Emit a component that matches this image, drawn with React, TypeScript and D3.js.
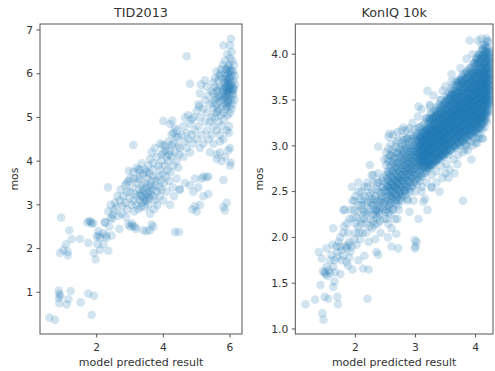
import * as d3 from 'd3'

const W = 495
const H = 371

// TID2013: [predicted, mos]
const tidLow: [number, number][] = [
  [0.58, 0.42], [0.75, 0.37], [1.85, 0.48], [0.87, 0.87], [0.88, 0.96], [0.86, 1.04], [0.91, 0.92],
  [1.22, 1.03], [1.15, 0.84], [1.1, 0.72], [0.88, 0.75], [1.52, 0.77], [1.75, 0.97], [1.92, 0.92],
  [0.93, 2.71], [0.9, 1.9], [1.0, 1.97], [1.13, 1.93], [1.13, 1.85], [1.08, 2.1], [1.25, 2.22],
  [1.18, 2.42], [1.5, 2.22], [1.75, 2.13], [1.72, 2.6], [1.78, 2.63], [1.85, 2.57], [1.92, 1.9],
  [1.97, 1.75], [2.02, 2.1], [2.1, 1.97], [2.05, 2.3], [2.0, 2.27], [2.25, 2.6], [2.2, 2.35],
  [2.28, 2.3], [2.3, 2.25], [2.35, 1.95], [2.38, 2.5], [2.42, 2.7], [2.47, 2.68], [2.2, 2.1],
  [1.82, 2.62], [1.9, 2.58], [2.34, 3.4], [2.25, 2.6], [2.05, 2.4], [2.1, 2.25], [2.45, 2.3],
  [2.52, 2.88], [2.48, 2.78], [2.55, 3.05], [2.35, 2.85], [2.42, 3.0],
]

const tidMid: [number, number][] = [
  [2.6, 2.95], [2.65, 2.75], [2.7, 3.1], [2.68, 2.45], [2.75, 2.8], [2.8, 3.2], [2.78, 2.98],
  [2.85, 3.05], [2.88, 2.72], [2.9, 3.3], [2.92, 2.9], [2.95, 2.55], [2.98, 3.15], [2.62, 3.2],
  [2.72, 3.35], [2.85, 3.45], [2.95, 3.55], [2.9, 3.5], [3.0, 3.6], [2.96, 3.78], [3.1, 3.75],
  [3.2, 3.85], [3.25, 3.8], [3.1, 4.37], [3.0, 2.5], [3.08, 2.52], [3.05, 3.0], [3.1, 3.1],
  [3.12, 2.85], [3.15, 3.25], [3.18, 2.45], [3.2, 3.0], [3.22, 3.2], [3.25, 2.9], [3.28, 3.35],
  [3.3, 3.1], [3.32, 2.95], [3.35, 3.2], [3.35, 3.45], [3.38, 3.05], [3.4, 3.3], [3.4, 2.42],
  [3.42, 3.15], [3.45, 3.5], [3.45, 2.95], [3.48, 3.25], [3.5, 3.1], [3.5, 3.4], [3.5, 2.4],
  [3.52, 3.6], [3.55, 3.3], [3.55, 3.0], [3.58, 3.15], [3.6, 3.45], [3.6, 2.8], [3.62, 3.25],
  [3.65, 3.55], [3.65, 2.55], [3.68, 3.35], [3.7, 3.2], [3.7, 3.65], [3.72, 2.9], [3.75, 3.45],
  [3.75, 3.1], [3.3, 3.8], [3.45, 3.8], [3.35, 3.95], [3.55, 3.9], [3.6, 4.05], [3.7, 3.95],
  [3.8, 4.1], [3.85, 3.9], [3.78, 3.55], [3.8, 3.3], [3.82, 3.0], [3.85, 3.65], [3.88, 3.4],
  [3.9, 3.2], [3.9, 3.8], [3.92, 3.55], [3.95, 4.0], [3.95, 3.35], [3.98, 3.7], [4.0, 4.2],
  [4.0, 3.1], [4.02, 3.5], [4.05, 3.9], [4.05, 4.35], [4.08, 3.65], [4.1, 4.1], [4.1, 3.3],
  [4.12, 3.8], [4.15, 4.0], [4.15, 4.45], [4.18, 3.55], [4.2, 4.25], [4.2, 3.0], [4.22, 3.75],
  [4.25, 4.1], [4.25, 4.6], [4.28, 3.4], [4.3, 3.9], [4.3, 4.4], [4.32, 3.2], [4.35, 4.2],
  [4.35, 2.38], [4.38, 4.55], [4.4, 3.6], [4.4, 4.0], [4.42, 4.7], [4.45, 3.85], [4.45, 4.35],
  [4.48, 3.35], [4.48, 4.15], [3.65, 4.2], [3.75, 4.3], [3.9, 4.4], [3.98, 4.37], [4.25, 4.37],
  [4.0, 4.92], [4.27, 4.93], [4.2, 4.85], [3.6, 2.42], [3.7, 2.5], [3.15, 2.5], [3.05, 2.58],
  [3.08, 3.4], [3.2, 3.5], [3.25, 3.6], [3.0, 3.3], [3.12, 3.6], [3.3, 3.65], [3.4, 3.7],
  [3.5, 3.75], [3.58, 3.72], [3.68, 3.8], [3.95, 4.15], [4.08, 4.25], [4.18, 4.15], [4.35, 4.75],
  [4.3, 4.65], [4.45, 4.55], [3.3, 3.25], [3.45, 3.1], [3.55, 3.2], [3.38, 3.35], [3.62, 3.4],
]

const tidHigh: [number, number][] = [
  [4.47, 2.38], [4.87, 2.9], [5.0, 2.85], [5.1, 3.0], [4.95, 2.97], [5.2, 3.2], [4.9, 3.3],
  [5.35, 3.25], [5.8, 2.95], [5.85, 2.88], [5.9, 3.05], [5.8, 3.57], [6.0, 3.9], [6.02, 3.97],
  [5.6, 4.15], [5.7, 4.2], [5.15, 3.6], [5.3, 3.63], [5.35, 3.65], [4.5, 3.35], [4.65, 3.5],
  [4.8, 3.45], [4.95, 3.6], [5.05, 3.4], [5.2, 3.65], [5.6, 4.05], [5.75, 4.0], [5.85, 4.1],
  [5.95, 4.25], [6.0, 4.3], [5.7, 4.45], [5.8, 4.5], [5.97, 4.65], [5.97, 4.8], [4.7, 6.4],
  [4.8, 5.77], [5.13, 5.75], [5.25, 5.85], [5.3, 5.7], [5.05, 5.3], [5.1, 5.55], [5.08, 5.25],
  [4.65, 5.0], [4.75, 5.05], [4.85, 4.95], [4.5, 4.3], [4.55, 4.6], [4.6, 4.8], [4.6, 4.1],
  [4.65, 4.45], [4.7, 4.3], [4.7, 4.65], [4.75, 4.5], [4.8, 4.2], [4.8, 4.85], [4.85, 4.6],
  [4.9, 4.4], [4.9, 5.0], [4.95, 4.7], [5.0, 4.5], [5.0, 5.15], [5.05, 4.8], [5.1, 4.3],
  [5.1, 5.0], [5.15, 4.6], [5.2, 5.2], [5.2, 4.4], [5.25, 4.9], [5.25, 5.4], [5.3, 4.7],
  [5.3, 5.1], [5.35, 4.5], [5.35, 5.5], [5.4, 4.9], [5.4, 5.3], [5.4, 4.2], [5.45, 5.0],
  [5.45, 5.6], [5.45, 4.6], [5.5, 5.2], [5.5, 4.8], [5.5, 5.8], [5.5, 4.4], [5.55, 5.4],
  [5.55, 5.0], [5.55, 5.9], [5.6, 4.7], [5.6, 5.3], [5.6, 5.6], [5.6, 6.05], [5.65, 4.9],
  [5.65, 5.5], [5.65, 5.15], [5.65, 5.85], [5.7, 4.6], [5.7, 5.35], [5.7, 5.7], [5.7, 6.0],
  [5.72, 5.05], [5.75, 5.5], [5.75, 5.25], [5.75, 5.9], [5.75, 4.8], [5.78, 6.2], [5.8, 5.4],
  [5.8, 5.6], [5.8, 5.1], [5.8, 6.65], [5.82, 5.8], [5.82, 4.95], [5.85, 5.3], [5.85, 5.5],
  [5.85, 5.7], [5.85, 6.0], [5.85, 6.3], [5.88, 5.2], [5.88, 5.9], [5.9, 5.45], [5.9, 5.6],
  [5.9, 5.75], [5.9, 6.1], [5.9, 4.7], [5.92, 5.35], [5.92, 6.45], [5.93, 5.05], [5.95, 5.55],
  [5.95, 5.8], [5.95, 6.0], [5.95, 5.4], [5.97, 6.2], [5.97, 5.65], [5.98, 5.25], [6.0, 5.5],
  [6.0, 5.9], [6.0, 6.65], [6.0, 5.1], [6.02, 5.75], [6.02, 6.1], [6.03, 6.8], [6.03, 5.4],
  [6.05, 5.6], [6.05, 6.5], [6.05, 5.95], [6.07, 5.3], [6.07, 6.3], [6.08, 5.7], [6.1, 5.85],
  [6.1, 5.5], [6.1, 6.05], [6.12, 5.65], [6.12, 6.2], [6.13, 5.4], [6.15, 5.75], [6.15, 5.95],
  [5.88, 5.55], [5.92, 5.85], [5.95, 6.15], [5.98, 5.7], [6.0, 6.35], [5.85, 5.8], [5.83, 5.45],
  [5.87, 6.1], [5.9, 5.25], [5.95, 5.35], [6.03, 5.8], [6.05, 5.2], [5.78, 5.65], [5.7, 5.45],
  [5.65, 5.65], [5.6, 5.45], [5.55, 5.7], [5.68, 5.95], [5.73, 6.1], [5.62, 5.2], [5.58, 5.1],
  [5.5, 5.55], [5.48, 5.35], [5.93, 5.6], [5.97, 5.9], [6.08, 5.55], [6.0, 5.65], [5.88, 5.65],
  [6.05, 6.05], [5.9, 5.95], [5.98, 6.05], [6.1, 5.65], [5.93, 5.75],
]

// KonIQ 10k: [predicted, mos]
const konLow: [number, number][] = [
  [1.17, 1.27], [1.33, 1.32], [1.45, 1.17], [1.47, 1.1], [1.42, 1.48], [1.49, 1.35], [1.55, 1.33],
  [1.71, 1.27], [1.7, 1.35], [2.2, 1.33], [1.65, 1.52], [1.63, 1.46], [1.49, 1.62], [1.46, 1.63],
  [1.55, 1.64], [1.58, 1.61], [1.52, 1.68], [1.63, 1.68], [1.39, 1.84], [1.52, 1.88], [1.44, 1.77],
  [1.6, 1.81], [1.7, 1.84], [1.77, 1.86], [1.83, 1.9], [1.88, 1.92], [1.94, 1.9], [1.85, 1.73],
  [1.88, 1.69], [1.77, 1.75], [2.13, 1.66], [2.22, 1.65], [2.35, 1.84], [2.38, 1.81], [2.6, 1.9],
  [2.71, 1.88], [2.99, 1.88], [3.02, 1.95], [3.79, 2.4], [1.63, 2.1], [1.81, 2.12], [1.96, 2.21],
  [1.95, 2.4], [2.05, 2.28], [1.82, 2.3], [1.8, 2.3], [1.94, 2.55], [2.24, 2.79], [2.27, 2.68],
  [1.5, 1.6], [1.53, 1.58], [1.9, 1.95], [1.86, 1.88], [1.92, 1.85], [1.98, 1.98], [2.0, 2.05],
  [2.02, 1.92], [2.05, 2.12], [2.08, 1.98], [2.1, 2.35], [2.1, 2.2], [2.12, 2.05], [2.15, 2.45],
  [2.15, 2.28], [2.15, 1.8], [2.18, 2.15], [2.2, 2.38], [2.2, 2.55], [2.22, 1.95], [2.25, 2.2],
  [2.25, 2.48], [2.28, 2.35], [2.28, 2.1], [2.3, 2.6], [2.3, 2.25], [2.32, 2.42], [2.33, 1.98],
  [2.35, 2.3], [2.35, 2.52], [2.37, 2.15], [2.38, 2.7], [2.4, 2.4], [2.4, 2.25], [2.42, 2.55],
  [2.42, 2.05], [2.44, 2.33], [2.45, 2.65], [2.45, 2.45], [2.47, 2.2], [2.48, 2.38], [2.48, 2.85],
  [2.1, 2.5], [2.05, 2.6], [2.0, 2.45], [1.98, 2.3], [1.9, 2.2], [1.88, 2.05], [1.75, 2.0],
  [1.72, 1.95], [1.68, 1.9], [1.62, 1.92], [1.58, 1.75], [1.66, 1.62], [1.75, 1.6], [1.8, 1.8],
  [1.9, 1.78], [1.95, 1.65], [2.05, 1.75], [2.0, 2.15], [2.35, 2.4], [2.36, 2.22], [2.43, 2.48],
  [2.4, 2.32], [2.46, 2.55], [2.5, 2.28], [2.3, 2.35], [2.38, 2.35], [2.34, 2.26], [2.41, 2.18],
  [2.26, 2.3], [2.32, 2.14], [2.18, 2.25], [2.12, 2.4], [2.44, 2.42], [2.39, 2.6], [2.27, 2.42],
  [2.02, 2.22], [2.04, 2.35], [2.06, 2.05], [2.08, 2.42], [2.1, 2.15], [2.12, 2.3], [2.14, 2.2],
  [2.16, 2.36], [2.18, 2.05], [2.2, 2.28], [2.22, 2.45], [2.24, 2.12], [2.26, 2.38], [2.28, 2.52],
  [2.3, 2.18], [2.32, 2.3], [2.34, 2.45], [2.36, 2.6], [2.38, 2.28], [2.4, 2.5], [2.42, 2.38],
  [2.44, 2.62], [2.46, 2.3], [2.48, 2.5], [2.5, 2.4], [2.52, 2.2], [2.54, 2.55], [2.56, 2.35],
  [2.58, 2.25], [2.6, 2.45], [2.62, 2.3], [2.64, 2.55], [2.66, 2.2], [2.68, 2.4], [2.7, 2.62],
  [2.72, 2.3], [2.74, 2.48], [2.2, 2.6], [2.15, 2.55], [2.3, 2.68], [2.05, 2.5], [1.98, 2.4],
  [1.92, 2.3], [1.86, 2.15], [1.8, 2.05], [1.75, 1.9], [1.7, 1.78], [1.65, 1.75],
]

// dense part of the KonIQ cloud, one entry per predicted value: [predicted, mos values]
const konCore: [number, number[]][] = [
  [2.51, [2.3, 2.44, 2.52, 2.6, 2.68, 2.79, 2.93]],
  [2.53, [2.36, 2.48, 2.56, 2.64, 2.72, 2.86]],
  [2.55, [2.27, 2.4, 2.5, 2.57, 2.63, 2.71, 2.83, 2.97]],
  [2.57, [2.33, 2.45, 2.54, 2.61, 2.69, 2.77, 2.9]],
  [2.59, [2.37, 2.46, 2.53, 2.6, 2.67, 2.79, 2.89, 3.02]],
  [2.61, [2.42, 2.5, 2.58, 2.65, 2.73, 2.84, 2.95]],
  [2.63, [2.31, 2.43, 2.51, 2.57, 2.64, 2.72, 2.81, 2.92]],
  [2.65, [2.4, 2.48, 2.55, 2.62, 2.69, 2.77, 2.87]],
  [2.67, [2.37, 2.47, 2.55, 2.62, 2.7, 2.77, 2.86, 2.99]],
  [2.69, [2.44, 2.52, 2.59, 2.66, 2.73, 2.81, 2.93]],
  [2.71, [2.35, 2.46, 2.53, 2.6, 2.66, 2.74, 2.82, 2.91, 3.06]],
  [2.73, [2.41, 2.5, 2.57, 2.64, 2.7, 2.78, 2.87, 2.97]],
  [2.75, [2.43, 2.51, 2.58, 2.65, 2.72, 2.8, 2.88, 2.96]],
  [2.77, [2.47, 2.55, 2.62, 2.68, 2.75, 2.84, 2.93, 3.03]],
  [2.79, [2.45, 2.55, 2.62, 2.68, 2.75, 2.82, 2.9, 3.0, 3.1]],
  [2.81, [2.51, 2.59, 2.66, 2.72, 2.79, 2.86, 2.95, 3.06]],
  [2.83, [2.5, 2.58, 2.65, 2.72, 2.78, 2.85, 2.92, 3.02]],
  [2.85, [2.47, 2.56, 2.63, 2.69, 2.75, 2.81, 2.88, 2.97, 3.08]],
  [2.87, [2.42, 2.55, 2.62, 2.7, 2.76, 2.83, 2.9, 2.98, 3.08]],
  [2.89, [2.53, 2.61, 2.67, 2.73, 2.8, 2.87, 2.94, 3.04]],
  [2.91, [2.5, 2.6, 2.68, 2.74, 2.8, 2.86, 2.93, 3.0, 3.12]],
  [2.93, [2.56, 2.64, 2.71, 2.77, 2.83, 2.9, 2.97, 3.07]],
  [2.95, [2.55, 2.65, 2.72, 2.78, 2.84, 2.9, 2.96, 3.05]],
  [2.97, [2.6, 2.68, 2.75, 2.81, 2.87, 2.93, 3.0, 3.1]],
  [2.99, [2.5, 2.6, 2.68, 2.75, 2.82, 2.88, 2.94, 3.0, 3.08, 3.18]],
  [3.01, [2.63, 2.71, 2.78, 2.85, 2.91, 2.97, 3.04, 3.12]],
  [3.03, [2.58, 2.68, 2.76, 2.82, 2.88, 2.94, 3.0, 3.06, 3.14]],
  [3.05, [2.65, 2.73, 2.8, 2.86, 2.92, 2.98, 3.04, 3.11, 3.2]],
  [3.07, [2.62, 2.7, 2.78, 2.85, 2.9, 2.96, 3.02, 3.1, 3.2]],
  [3.09, [2.67, 2.75, 2.82, 2.88, 2.94, 3.0, 3.07, 3.15]],
  [3.11, [2.55, 2.66, 2.75, 2.82, 2.88, 2.94, 3.0, 3.06, 3.12, 3.22]],
  [3.13, [2.7, 2.78, 2.85, 2.91, 2.97, 3.03, 3.09, 3.17]],
  [3.15, [2.7, 2.78, 2.85, 2.9, 2.96, 3.02, 3.08, 3.15, 3.25]],
  [3.17, [2.74, 2.82, 2.88, 2.94, 3.0, 3.06, 3.12, 3.2, 3.3]],
  [3.19, [2.6, 2.72, 2.8, 2.88, 2.94, 3.0, 3.05, 3.1, 3.18, 3.3]],
  [3.21, [2.76, 2.84, 2.91, 2.97, 3.03, 3.09, 3.15, 3.23]],
  [3.23, [2.75, 2.82, 2.9, 2.96, 3.02, 3.08, 3.14, 3.2, 3.3]],
  [3.25, [2.79, 2.87, 2.93, 2.99, 3.05, 3.11, 3.17, 3.25, 3.36]],
  [3.27, [2.68, 2.78, 2.86, 2.93, 3.0, 3.05, 3.1, 3.16, 3.24, 3.35]],
  [3.29, [2.82, 2.9, 2.97, 3.03, 3.09, 3.15, 3.21, 3.29]],
  [3.31, [2.8, 2.88, 2.95, 3.02, 3.08, 3.14, 3.2, 3.28, 3.38]],
  [3.33, [2.84, 2.91, 2.98, 3.05, 3.11, 3.17, 3.24, 3.33]],
  [3.35, [2.72, 2.84, 2.92, 2.98, 3.05, 3.1, 3.16, 3.22, 3.3, 3.42]],
  [3.37, [2.87, 2.95, 3.02, 3.08, 3.14, 3.2, 3.27, 3.36]],
  [3.39, [2.85, 2.92, 3.0, 3.06, 3.12, 3.18, 3.24, 3.32, 3.45]],
  [3.41, [2.89, 2.97, 3.04, 3.1, 3.16, 3.22, 3.29, 3.39]],
  [3.43, [2.78, 2.9, 2.98, 3.04, 3.1, 3.16, 3.22, 3.28, 3.36, 3.5]],
  [3.45, [2.92, 3.0, 3.07, 3.13, 3.19, 3.25, 3.32, 3.42]],
  [3.47, [2.88, 2.96, 3.02, 3.08, 3.14, 3.2, 3.26, 3.34, 3.42]],
  [3.49, [2.94, 3.02, 3.09, 3.15, 3.21, 3.27, 3.35, 3.46]],
  [3.51, [2.8, 2.95, 3.03, 3.1, 3.16, 3.22, 3.28, 3.35, 3.44, 3.55]],
  [3.53, [2.98, 3.06, 3.13, 3.19, 3.25, 3.31, 3.39, 3.5]],
  [3.55, [2.9, 3.0, 3.08, 3.14, 3.2, 3.26, 3.32, 3.4, 3.48, 3.58]],
  [3.57, [2.74, 3.02, 3.1, 3.17, 3.23, 3.29, 3.36, 3.45]],
  [3.59, [2.95, 3.04, 3.12, 3.18, 3.24, 3.3, 3.36, 3.43, 3.52, 3.62]],
  [3.61, [3.06, 3.14, 3.21, 3.27, 3.33, 3.4, 3.48, 3.57]],
  [3.63, [2.85, 3.0, 3.08, 3.16, 3.22, 3.28, 3.34, 3.4, 3.47, 3.56, 3.66]],
  [3.65, [3.1, 3.18, 3.25, 3.31, 3.37, 3.44, 3.52]],
  [3.67, [2.98, 3.06, 3.13, 3.2, 3.26, 3.32, 3.38, 3.45, 3.52, 3.6, 3.7]],
  [3.69, [3.08, 3.16, 3.23, 3.29, 3.35, 3.41, 3.48, 3.57]],
  [3.71, [2.9, 3.03, 3.11, 3.18, 3.25, 3.31, 3.37, 3.43, 3.5, 3.58, 3.7]],
  [3.73, [3.13, 3.2, 3.27, 3.33, 3.39, 3.46, 3.54, 3.64]],
  [3.75, [3.0, 3.08, 3.15, 3.22, 3.29, 3.35, 3.41, 3.47, 3.54, 3.62, 3.72]],
  [3.77, [3.11, 3.18, 3.25, 3.31, 3.37, 3.43, 3.5, 3.58, 3.68]],
  [3.79, [2.93, 3.05, 3.13, 3.2, 3.27, 3.33, 3.39, 3.45, 3.52, 3.6, 3.68, 3.78]],
  [3.81, [3.16, 3.23, 3.29, 3.35, 3.41, 3.47, 3.54, 3.63]],
  [3.83, [3.02, 3.1, 3.18, 3.25, 3.31, 3.37, 3.43, 3.49, 3.56, 3.64, 3.74]],
  [3.85, [3.14, 3.21, 3.28, 3.34, 3.4, 3.46, 3.52, 3.59, 3.68, 3.8]],
  [3.87, [2.95, 3.06, 3.15, 3.22, 3.29, 3.35, 3.41, 3.47, 3.53, 3.6, 3.68, 3.78]],
  [3.89, [3.18, 3.25, 3.32, 3.38, 3.44, 3.5, 3.56, 3.63, 3.72]],
  [3.91, [3.04, 3.12, 3.2, 3.27, 3.33, 3.39, 3.45, 3.51, 3.57, 3.64, 3.72, 3.84]],
  [3.93, [3.17, 3.24, 3.31, 3.37, 3.43, 3.49, 3.55, 3.62, 3.7, 3.8]],
  [3.95, [3.0, 3.1, 3.18, 3.26, 3.33, 3.39, 3.45, 3.51, 3.57, 3.64, 3.72, 3.82]],
  [3.97, [3.2, 3.28, 3.35, 3.41, 3.47, 3.53, 3.6, 3.67, 3.76, 3.9]],
  [3.99, [3.08, 3.16, 3.24, 3.31, 3.37, 3.43, 3.49, 3.55, 3.61, 3.68, 3.76, 3.86]],
  [4.01, [3.22, 3.3, 3.37, 3.43, 3.49, 3.55, 3.62, 3.7, 3.8, 3.95]],
  [4.03, [3.03, 3.14, 3.22, 3.29, 3.35, 3.41, 3.47, 3.53, 3.59, 3.65, 3.72, 3.8, 3.9]],
  [4.05, [3.26, 3.33, 3.4, 3.46, 3.52, 3.58, 3.64, 3.71, 3.79, 3.88, 4.0]],
  [4.07, [3.12, 3.2, 3.28, 3.35, 3.41, 3.47, 3.53, 3.59, 3.65, 3.72, 3.8, 3.92]],
  [4.09, [3.24, 3.31, 3.38, 3.44, 3.5, 3.56, 3.62, 3.68, 3.75, 3.84, 3.96]],
  [4.11, [3.08, 3.18, 3.27, 3.34, 3.41, 3.47, 3.53, 3.59, 3.65, 3.71, 3.78, 3.86, 3.98]],
  [4.13, [3.3, 3.37, 3.44, 3.5, 3.56, 3.62, 3.68, 3.74, 3.81, 3.9, 4.05]],
  [4.15, [3.2, 3.29, 3.36, 3.43, 3.49, 3.55, 3.61, 3.67, 3.73, 3.8, 3.88, 3.97, 4.1]],
  [4.17, [3.33, 3.4, 3.47, 3.53, 3.59, 3.65, 3.71, 3.77, 3.84, 3.93, 4.02]],
  [4.19, [3.26, 3.36, 3.44, 3.51, 3.57, 3.63, 3.69, 3.75, 3.82, 3.9, 4.0, 4.14]],
  [4.21, [3.4, 3.48, 3.55, 3.61, 3.67, 3.73, 3.79, 3.86, 3.95, 4.06]],
  [4.23, [3.45, 3.53, 3.6, 3.66, 3.72, 3.78, 3.85, 3.93, 4.02]],
  [4.25, [3.5, 3.6, 3.68, 3.76, 3.84, 3.92, 4.0]],
]

// the solid upper part of the band holds many more images
const konCoreDense: [number, number[]][] = [
  [3.06, [2.84, 2.92, 3.0, 3.08]],
  [3.08, [2.8, 2.88, 2.96, 3.04]],
  [3.1, [2.78, 2.86, 2.94, 3.02, 3.1]],
  [3.12, [2.82, 2.9, 2.98, 3.06, 3.14]],
  [3.14, [2.81, 2.89, 2.97, 3.05, 3.13]],
  [3.16, [2.76, 2.84, 2.92, 3.0, 3.08, 3.16]],
  [3.18, [2.83, 2.91, 2.99, 3.07, 3.15]],
  [3.2, [2.78, 2.86, 2.94, 3.02, 3.1, 3.18]],
  [3.22, [2.77, 2.85, 2.93, 3.01, 3.09, 3.17, 3.27]],
  [3.24, [2.8, 2.88, 2.96, 3.04, 3.12, 3.2, 3.28]],
  [3.26, [2.79, 2.87, 2.95, 3.03, 3.11, 3.19, 3.29]],
  [3.28, [2.82, 2.9, 2.98, 3.06, 3.14, 3.22, 3.3]],
  [3.3, [2.81, 2.89, 2.97, 3.05, 3.13, 3.21, 3.31]],
  [3.32, [2.84, 2.92, 3.0, 3.08, 3.16, 3.24, 3.32]],
  [3.34, [2.83, 2.91, 2.99, 3.07, 3.15, 3.23, 3.31, 3.38]],
  [3.36, [2.86, 2.94, 3.02, 3.1, 3.18, 3.26, 3.34]],
  [3.38, [2.85, 2.93, 3.01, 3.09, 3.17, 3.25, 3.33, 3.41]],
  [3.4, [2.88, 2.96, 3.04, 3.12, 3.2, 3.28, 3.36]],
  [3.42, [2.87, 2.95, 3.03, 3.11, 3.19, 3.27, 3.35, 3.43]],
  [3.44, [2.9, 2.98, 3.06, 3.14, 3.22, 3.3, 3.38]],
  [3.46, [2.89, 2.97, 3.05, 3.13, 3.21, 3.29, 3.37, 3.45]],
  [3.48, [2.92, 3.0, 3.08, 3.16, 3.24, 3.32, 3.4, 3.47]],
  [3.5, [2.91, 2.99, 3.07, 3.15, 3.23, 3.31, 3.39, 3.48]],
  [3.52, [2.94, 3.02, 3.1, 3.18, 3.26, 3.34, 3.42, 3.5]],
  [3.54, [2.93, 3.01, 3.09, 3.17, 3.25, 3.33, 3.41, 3.52]],
  [3.56, [2.96, 3.04, 3.12, 3.2, 3.28, 3.36, 3.44, 3.53]],
  [3.58, [2.95, 3.03, 3.11, 3.19, 3.27, 3.35, 3.43, 3.51, 3.56]],
  [3.6, [2.98, 3.06, 3.14, 3.22, 3.3, 3.38, 3.46, 3.55]],
  [3.62, [2.97, 3.05, 3.13, 3.21, 3.29, 3.37, 3.45, 3.53, 3.6]],
  [3.64, [3.0, 3.08, 3.16, 3.24, 3.32, 3.4, 3.48, 3.56]],
  [3.66, [2.99, 3.07, 3.15, 3.23, 3.31, 3.39, 3.47, 3.55, 3.63]],
  [3.68, [3.02, 3.1, 3.18, 3.26, 3.34, 3.42, 3.5, 3.58, 3.65]],
  [3.7, [3.01, 3.09, 3.17, 3.25, 3.33, 3.41, 3.49, 3.57, 3.66]],
  [3.72, [3.04, 3.12, 3.2, 3.28, 3.36, 3.44, 3.52, 3.6, 3.68]],
  [3.74, [3.03, 3.11, 3.19, 3.27, 3.35, 3.43, 3.51, 3.59, 3.7]],
  [3.76, [3.06, 3.14, 3.22, 3.3, 3.38, 3.46, 3.54, 3.62, 3.72]],
  [3.78, [3.05, 3.13, 3.21, 3.29, 3.37, 3.45, 3.53, 3.61, 3.69, 3.76]],
  [3.8, [3.08, 3.16, 3.24, 3.32, 3.4, 3.48, 3.56, 3.64, 3.72]],
  [3.82, [3.07, 3.15, 3.23, 3.31, 3.39, 3.47, 3.55, 3.63, 3.71, 3.79]],
  [3.84, [3.1, 3.18, 3.26, 3.34, 3.42, 3.5, 3.58, 3.66, 3.74]],
  [3.86, [3.09, 3.17, 3.25, 3.33, 3.41, 3.49, 3.57, 3.65, 3.73, 3.82]],
  [3.88, [3.12, 3.2, 3.28, 3.36, 3.44, 3.52, 3.6, 3.68, 3.76]],
  [3.9, [3.11, 3.19, 3.27, 3.35, 3.43, 3.51, 3.59, 3.67, 3.75, 3.85]],
  [3.92, [3.14, 3.22, 3.3, 3.38, 3.46, 3.54, 3.62, 3.7, 3.78]],
  [3.94, [3.13, 3.21, 3.29, 3.37, 3.45, 3.53, 3.61, 3.69, 3.77, 3.87]],
  [3.96, [3.16, 3.24, 3.32, 3.4, 3.48, 3.56, 3.64, 3.72, 3.8]],
  [3.98, [3.15, 3.23, 3.31, 3.39, 3.47, 3.55, 3.63, 3.71, 3.79, 3.9]],
  [4.0, [3.18, 3.26, 3.34, 3.42, 3.5, 3.58, 3.66, 3.74, 3.82, 3.92]],
  [4.02, [3.17, 3.25, 3.33, 3.41, 3.49, 3.57, 3.65, 3.73, 3.81, 3.89, 3.96]],
  [4.04, [3.2, 3.28, 3.36, 3.44, 3.52, 3.6, 3.68, 3.76, 3.84, 3.94]],
  [4.06, [3.19, 3.27, 3.35, 3.43, 3.51, 3.59, 3.67, 3.75, 3.83, 3.91, 3.99]],
  [4.08, [3.22, 3.3, 3.38, 3.46, 3.54, 3.62, 3.7, 3.78, 3.86, 3.95, 4.03]],
  [4.1, [3.21, 3.29, 3.37, 3.45, 3.53, 3.61, 3.69, 3.77, 3.85, 3.93, 4.0]],
  [4.12, [3.24, 3.32, 3.4, 3.48, 3.56, 3.64, 3.72, 3.8, 3.88, 3.97, 4.06]],
  [4.14, [3.26, 3.34, 3.42, 3.5, 3.58, 3.66, 3.74, 3.82, 3.9, 3.99]],
  [4.16, [3.28, 3.36, 3.44, 3.52, 3.6, 3.68, 3.76, 3.84, 3.92, 4.01, 4.08]],
  [4.18, [3.3, 3.38, 3.46, 3.54, 3.62, 3.7, 3.78, 3.86, 3.94, 4.04]],
  [4.2, [3.35, 3.43, 3.51, 3.59, 3.67, 3.75, 3.83, 3.91, 3.99, 4.08]],
  [4.22, [3.38, 3.46, 3.54, 3.62, 3.7, 3.78, 3.86, 3.94, 4.02]],
  [4.24, [3.48, 3.56, 3.64, 3.72, 3.8, 3.88, 3.96]],
]

const konEdge: [number, number][] = [
  [2.57, 3.13], [2.63, 3.12], [2.68, 3.04], [2.85, 3.17], [2.9, 3.19], [3.04, 3.32], [3.24, 3.45],
  [2.99, 1.97], [3.0, 1.9], [2.68, 2.04], [3.13, 2.39], [3.27, 2.54], [2.55, 3.1], [2.38, 2.99],
  [2.77, 3.17], [3.05, 3.43], [3.2, 3.6], [3.24, 3.43], [2.54, 2.0], [2.6, 2.1], [2.7, 2.2],
  [2.55, 2.15], [2.77, 2.4], [2.87, 2.4], [2.97, 2.4], [3.16, 2.42], [2.83, 2.52], [3.1, 2.5],
  [3.27, 2.55], [2.9, 2.28], [3.05, 2.2], [3.2, 2.3], [3.35, 2.6], [3.45, 2.65], [3.4, 2.5],
  [3.9, 4.15], [4.04, 4.15], [4.1, 4.17], [4.18, 4.17], [4.21, 4.14], [4.1, 4.1], [3.6, 3.7],
  [3.71, 3.72], [3.41, 3.5], [4.0, 3.03], [4.04, 3.08], [3.82, 2.96], [3.93, 2.85], [4.12, 3.08],
  [3.55, 2.65], [3.65, 2.7], [3.7, 2.8], [3.5, 2.7], [3.85, 3.0], [3.6, 3.78], [3.5, 3.65],
  [3.75, 3.85], [3.85, 3.95], [3.95, 4.0], [3.3, 3.55], [3.45, 3.6], [3.1, 3.4], [2.95, 3.25],
  [2.8, 3.2], [2.7, 3.15],
]

const flatten = (cols: [number, number[]][]) =>
  cols.flatMap(([x, ys]) => ys.map((y) => [x, y] as [number, number]))

const konPoints: [number, number][] = [
  ...konLow,
  ...flatten(konCore),
  ...flatten(konCoreDense),
  ...konEdge,
]
const tidPoints: [number, number][] = [...tidLow, ...tidMid, ...tidHigh]

const tidXTicks = [2, 4, 6]
const tidYTicks = [1, 2, 3, 4, 5, 6, 7]
const konXTicks = [2, 3, 4]
const konYTicks = [1.0, 1.5, 2.0, 2.5, 3.0, 3.5, 4.0]

const FONT = 'DejaVu Sans, sans-serif'
const INK = '#333'

interface PanelProps {
  id: string
  title: string
  points: [number, number][]
  x: d3.ScaleLinear<number, number>
  y: d3.ScaleLinear<number, number>
  xTicks: number[]
  yTicks: number[]
  yFmt: (v: number) => string
  labelX: number
}

function Panel({ id, title, points, x, y, xTicks, yTicks, yFmt, labelX }: PanelProps) {
  const [x0, x1] = x.range()
  const [y1, y0] = y.range()
  return (
    <g>
      <defs>
        <clipPath id={id}>
          <rect x={x0} y={y0} width={x1 - x0} height={y1 - y0} />
        </clipPath>
      </defs>
      <g clipPath={`url(#${id})`}>
        {points.map(([px, py], i) => (
          <circle key={i} cx={x(px)} cy={y(py)} r={4.3} fill="#1f77b4" fillOpacity={0.2} />
        ))}
      </g>
      <rect x={x0} y={y0} width={x1 - x0} height={y1 - y0} fill="none" stroke="#444" strokeWidth={0.9} />
      {xTicks.map((t) => (
        <g key={t} transform={`translate(${x(t)},${y1})`}>
          <line y2={3.5} stroke="#444" strokeWidth={0.9} />
          <text y={16.5} textAnchor="middle" fontSize={10.7} fill={INK} fontFamily={FONT}>{t}</text>
        </g>
      ))}
      {yTicks.map((t) => (
        <g key={t} transform={`translate(${x0},${y(t)})`}>
          <line x2={-3.5} stroke="#444" strokeWidth={0.9} />
          <text x={-7} dy="0.35em" textAnchor="end" fontSize={10.7} fill={INK} fontFamily={FONT}>{yFmt(t)}</text>
        </g>
      ))}
      <text x={(x0 + x1) / 2} y={17} textAnchor="middle" fontSize={12.8} fill={INK} fontFamily={FONT}>{title}</text>
      <text x={(x0 + x1) / 2} y={366} textAnchor="middle" fontSize={11} fill={INK} fontFamily={FONT}>model predicted result</text>
      <text transform={`translate(${labelX},${(y0 + y1) / 2}) rotate(-90)`} textAnchor="middle" fontSize={11} fill={INK} fontFamily={FONT}>mos</text>
    </g>
  )
}

export default function App() {
  const tidX = d3.scaleLinear().domain([0.3, 6.36]).range([40, 242])
  const tidY = d3.scaleLinear().domain([0.046, 7.137]).range([334, 24])
  const konX = d3.scaleLinear().domain([1.0, 4.29]).range([295.3, 493])
  const konY = d3.scaleLinear().domain([0.945, 4.33]).range([334, 24])

  return (
    <svg width={W} height={H} style={{ position: 'absolute', left: 0, top: 0, background: '#fff' }}>
      <Panel id="clip-tid" title="TID2013" points={tidPoints} x={tidX} y={tidY}
        xTicks={tidXTicks} yTicks={tidYTicks} yFmt={(v) => String(v)} labelX={18} />
      <Panel id="clip-kon" title="KonIQ 10k" points={konPoints} x={konX} y={konY}
        xTicks={konXTicks} yTicks={konYTicks} yFmt={d3.format('.1f')} labelX={263} />
    </svg>
  )
}
